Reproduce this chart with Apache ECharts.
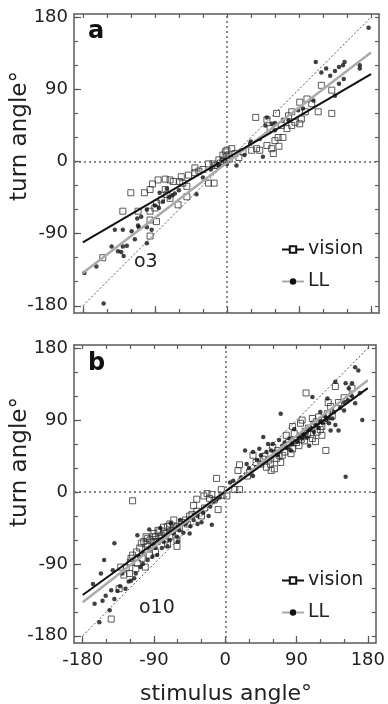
<!DOCTYPE html>
<html><head><meta charset="utf-8">
<script src="https://cdn.jsdelivr.net/npm/echarts@6/dist/echarts.min.js"></script>
<style>html,body{margin:0;padding:0;background:#fff}#c{width:388px;height:704px}</style>
</head><body><div id="c"></div>
<script>
const tickValues = [-180,-150,-120,-90,-60,-30,0,30,60,90,120,150,180];
const labelValues = [-180,-90,0,90,180];
const xRange = [-191, 190];
const yRange = [-189, 184];

// panel a (o3)
const visionA = [[-2,12],[0,7],[-4,2],[-40,-8],[-23,-3],[-17,-3],[-14,-5],[-48,-17],[-40,-14],[-57,-19],[-86,-23],[-77,-22],[-71,-23],[-67,-25],[-93,-28],[-96,-35],[-103,-39],[-120,-39],[-59,-25],[-55,-27],[-50,-31],[-23,-27],[-16,-27],[-77,-35],[-75,-41],[-71,-46],[-82,-48],[-88,-52],[-90,-58],[-96,-62],[-61,-54],[-50,-44],[-130,-62],[-111,-62],[-88,-75],[-96,-73],[-96,-93],[-155,-120],[-12,-5],[-30,-10],[-35,-12],[-8,-2],[-5,0],
  [0,14],[6,16],[-5,8],[10,10],[31,14],[37,16],[41,14],[50,20],[56,16],[58,10],[65,19],[60,26],[64,30],[54,41],[50,52],[36,55],[62,60],[68,45],[75,41],[81,45],[85,49],[91,47],[93,53],[81,62],[77,57],[91,74],[100,78],[106,72],[114,62],[131,60],[118,95],[131,89],[98,62],[70,30],[3,3],[20,12],[-10,2],[15,5]];
const llA = [[-140,-85],[-130,-85],[-119,-87],[-144,-106],[-136,-112],[-130,-106],[-125,-105],[-129,-118],[-132,-113],[-115,-97],[-111,-80],[-110,-82],[-100,-82],[-94,-85],[-100,-102],[-107,-69],[-112,-71],[-163,-131],[-178,-139],[-154,-177],[-38,-41],[-84,-39],[-75,-34],[-80,-50],[-72,-45],[-68,-42],[-65,-40],[-60,-36],[-90,-55],[-85,-58],[-100,-60],[-20,-10],[-10,-6],[-30,-20],
  [111,124],[118,111],[124,116],[129,107],[135,113],[140,118],[147,124],[145,120],[140,97],[146,103],[166,116],[166,120],[177,167],[135,82],[95,66],[50,55],[48,45],[56,47],[60,39],[45,6],[22,8],[12,-5],[0,-3],[29,22],[41,28],[77,51],[89,64],[108,76],[30,25],[60,48],[70,52]];
const visionFitA = [[-180,-101],[180,109]];
const llFitA = [[-180,-139],[180,136]];

// panel b (o10)
const visionB = [[-5,3],[-17,-3],[-23,-2],[-9,-22],[-117,-11],[-36,-9],[-40,-17],[-36,-24],[-26,-20],[-30,-30],[-61,-43],[-65,-35],[-73,-43],[-69,-49],[-78,-49],[-80,-54],[-88,-56],[-92,-56],[-98,-58],[-103,-62],[-86,-62],[-73,-66],[-61,-68],[-61,-60],[-76,-60],[-98,-68],[-117,-79],[-119,-83],[-128,-104],[-134,-121],[-144,-159],[-132,-94],[-105,-83],[-111,-89],[-113,-96],[-121,-102],[-101,-94],[-96,-79],[-88,-75],
  [-84,-50],[-90,-52],[-95,-60],[-100,-65],[-70,-40],[-55,-38],[-50,-35],[-45,-30],[-65,-45],[-82,-58],[-108,-70],[-20,-8],[-14,-10],[-27,-5],[-4,-4],
  [-90,-62],[-85,-48],[-78,-44],[-75,-52],[-70,-56],[-67,-48],[-58,-45],[-100,-56],[-106,-64],[-112,-75],[-48,-40],[-42,-28],[-120,-88],[-125,-95],
  [-11,17],[2,-5],[12,3],[18,3],[16,27],[18,34],[35,46],[31,25],[52,31],[58,27],[62,29],[70,37],[72,46],[83,48],[85,54],[87,73],[85,82],[95,86],[97,90],[102,124],[104,73],[110,67],[114,63],[122,71],[127,52],[110,92],[118,94],[129,98],[139,132],[122,82],[116,75],[68,46],[39,37],[48,41],[60,56],[79,58],[93,58],[100,64],[133,107],[77,71],
  [55,40],[65,42],[75,50],[90,62],[105,80],[112,85],[125,90],[45,35],[28,20],[95,70],
  [50,45],[57,35],[66,52],[80,62],[88,65],[96,66],[101,76],[108,72],[115,88],[120,78],[135,95],[143,112],[150,118],[160,130],[130,112]];
const llB = [[25,52],[27,35],[35,20],[48,69],[54,60],[60,60],[68,65],[70,98],[66,46],[91,63],[97,73],[110,119],[129,117],[139,138],[152,136],[160,136],[156,130],[164,156],[168,152],[158,122],[135,92],[143,77],[150,102],[164,111],[173,90],[152,19],[120,100],[127,90],[104,79],[97,67],[81,67],[87,79],[114,84],[123,86],[131,86],[139,84],[133,77],[43,54],[35,50],[39,31],[52,50],[10,14],[6,12],[-7,-7],[106,58],[83,52],
  [40,40],[45,46],[58,52],[62,50],[72,58],[75,62],[78,55],[85,60],[92,70],[100,72],[103,68],[108,80],[112,75],[118,80],[120,88],[126,95],[130,92],[137,100],[145,105],[150,112],[155,115],[160,120],[170,124],[30,30],[20,18],
  [-140,-64],[-153,-85],[-157,-102],[-111,-54],[-142,-98],[-167,-115],[-165,-140],[-144,-123],[-151,-130],[-155,-136],[-146,-148],[-159,-163],[-140,-134],[-136,-124],[-126,-121],[-119,-111],[-113,-102],[-107,-94],[-92,-81],[-86,-79],[-80,-70],[-73,-68],[-61,-56],[-44,-43],[-40,-35],[-28,-26],[-21,-30],[-19,-18],[-11,-9],[-17,-41],[-90,-66],[-103,-77],[-109,-81],[-130,-102],[-96,-47],[-82,-45],[-69,-39],[-57,-35],[-53,-51],
  [-95,-72],[-88,-70],[-78,-62],[-70,-60],[-65,-52],[-58,-48],[-50,-40],[-35,-30],[-98,-85],[-104,-90],[-115,-108],[-122,-112],[-133,-118],[-35,-40],[-30,-38],[-15,-12],[-45,-52],[-60,-62]];
const visionFitB = [[-180,-129],[180,130]];
const llFitB = [[-180,-138],[180,140]];

const identity = [[-180,-180],[180,180]];

const FONT = 'DejaVu Sans';
const AX = '#5a5a5a';
const TXT = '#222';

function xAxes(g, labels) {
  const base = {gridIndex:g, type:'value', min:xRange[0], max:xRange[1], splitLine:{show:false}};
  return [
    Object.assign({}, base, {position:'bottom',
      axisLine:{show:true, onZero:false, lineStyle:{color:AX, width:1.5}},
      axisTick:{show:true, inside:true, length:4, customValues:tickValues, lineStyle:{color:AX, width:1.2}},
      axisLabel:{show:labels, customValues:labelValues, color:TXT, fontSize:18, fontFamily:FONT, margin:8}}),
    Object.assign({}, base, {position:'bottom',
      axisLine:{show:false, onZero:false},
      axisTick:{show:true, inside:true, length:7, customValues:labelValues, lineStyle:{color:AX, width:1.2}},
      axisLabel:{show:false}}),
    Object.assign({}, base, {position:'top',
      axisLine:{show:true, onZero:false, lineStyle:{color:AX, width:1.5}},
      axisTick:{show:true, inside:true, length:4, customValues:tickValues, lineStyle:{color:AX, width:1.2}},
      axisLabel:{show:false}})
  ];
}
function yAxes(g) {
  const base = {gridIndex:g, type:'value', min:yRange[0], max:yRange[1], splitLine:{show:false}};
  return [
    Object.assign({}, base, {position:'left',
      axisLine:{show:true, onZero:false, lineStyle:{color:AX, width:1.5}},
      axisTick:{show:true, inside:true, length:4, customValues:tickValues, lineStyle:{color:AX, width:1.2}},
      axisLabel:{show:true, customValues:labelValues, color:TXT, fontSize:18, fontFamily:FONT, margin:6}}),
    Object.assign({}, base, {position:'left',
      axisLine:{show:false, onZero:false},
      axisTick:{show:true, inside:true, length:7, customValues:labelValues, lineStyle:{color:AX, width:1.2}},
      axisLabel:{show:false}}),
    Object.assign({}, base, {position:'right',
      axisLine:{show:true, onZero:false, lineStyle:{color:AX, width:1.5}},
      axisTick:{show:true, inside:true, length:4, customValues:tickValues, lineStyle:{color:AX, width:1.2}},
      axisLabel:{show:false}})
  ];
}

function panelSeries(g, vPts, lPts, vFit, lFit) {
  const xi = g*3, yi = g*3;
  return [
    {type:'line', name:'identity', xAxisIndex:xi, yAxisIndex:yi, data:identity, symbol:'none', silent:true, z:1,
      lineStyle:{color:'#555', width:1, type:[2,2]},
      markLine:{silent:true, symbol:'none', label:{show:false}, animation:false,
        lineStyle:{color:'#666', width:1.5, type:[2,3]},
        data:[{xAxis:0},{yAxis:0}]}},
    {type:'scatter', name:'vision points', xAxisIndex:xi, yAxisIndex:yi, data:vPts, symbol:'rect', symbolSize:6, z:2,
      itemStyle:{color:'rgba(255,255,255,0)', borderColor:'#333', borderWidth:1}},
    {type:'scatter', name:'LL points', xAxisIndex:xi, yAxisIndex:yi, data:lPts, symbol:'circle', symbolSize:4.5, z:2,
      itemStyle:{color:'#111'}},
    {type:'line', name:'LL', xAxisIndex:xi, yAxisIndex:yi, data:lFit, symbol:'circle', showSymbol:false, z:3,
      itemStyle:{color:'#111'}, lineStyle:{color:'#aaa', width:2.5}},
    {type:'line', name:'vision', xAxisIndex:xi, yAxisIndex:yi, data:vFit, symbol:'emptyRect', showSymbol:false, z:4,
      itemStyle:{color:'#111'}, lineStyle:{color:'#111', width:2}}
  ];
}

function legendAt(top) {
  return {data:['vision','LL'], orient:'vertical', left:276, top:top, itemWidth:22, itemHeight:8, itemGap:13,
    selectedMode:false, textStyle:{fontSize:19, fontFamily:FONT, color:TXT, padding:[0,0,0,-1]}};
}

const chart = echarts.init(document.getElementById('c'), null, {renderer:'canvas'});
chart.setOption({
  animation:false,
  backgroundColor:'#fff',
  grid:[{left:74, right:9, top:14, height:299}, {left:74, right:9, top:345, height:298}],
  xAxis:[].concat(xAxes(0,false), xAxes(1,true)),
  yAxis:[].concat(yAxes(0), yAxes(1)),
  legend:[legendAt(235), legendAt(566)],
  series:[].concat(panelSeries(0, visionA, llA, visionFitA, llFitA), panelSeries(1, visionB, llB, visionFitB, llFitB)),
  graphic:[
    {type:'text', left:88, top:20, style:{text:'a', fontSize:24, fontWeight:'bold', fontFamily:FONT, fill:'#111'}},
    {type:'text', left:88, top:352, style:{text:'b', fontSize:24, fontWeight:'bold', fontFamily:FONT, fill:'#111'}},
    {type:'text', left:134, top:253, style:{text:'o3', fontSize:19, fontFamily:FONT, fill:TXT}},
    {type:'text', left:139, top:599, style:{text:'o10', fontSize:19, fontFamily:FONT, fill:TXT}},
    {type:'text', x:20, y:136, rotation:Math.PI/2, style:{text:'turn angle°', fontSize:23, fontFamily:FONT, fill:TXT, align:'center', verticalAlign:'middle'}},
    {type:'text', x:20, y:462, rotation:Math.PI/2, style:{text:'turn angle°', fontSize:23, fontFamily:FONT, fill:TXT, align:'center', verticalAlign:'middle'}},
    {type:'text', x:226, y:694, style:{text:'stimulus angle°', fontSize:22, fontFamily:FONT, fill:TXT, align:'center', verticalAlign:'middle'}}
  ]
});
</script></body></html>
